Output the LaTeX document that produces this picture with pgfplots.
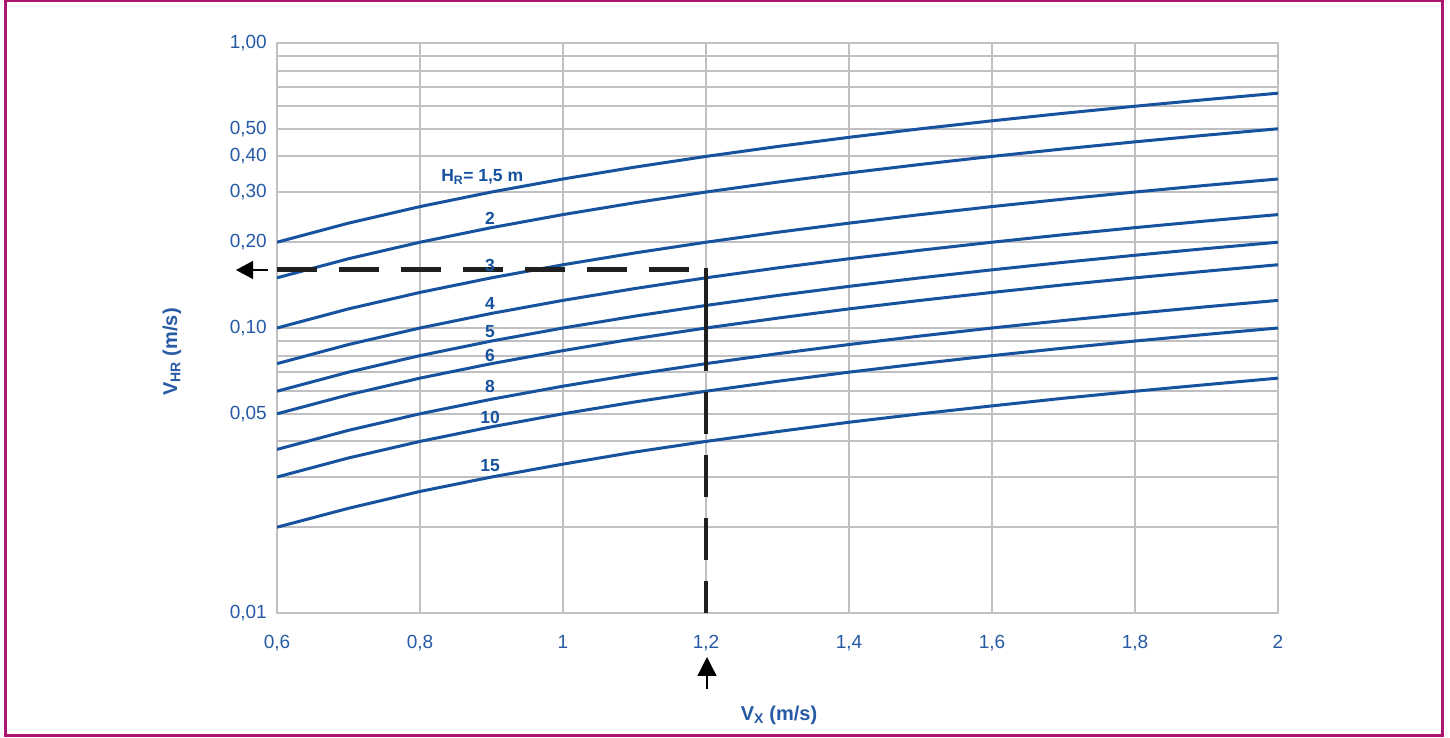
\documentclass[border=0pt]{standalone}
\usepackage{pgfplots}
\pgfplotsset{compat=1.18}
\usepackage{pgfplotstable}
\usepackage{fontspec}
\setmainfont{Liberation Sans}
\usetikzlibrary{arrows.meta}
\definecolor{framec}{RGB}{170,22,112}
\definecolor{tblue}{RGB}{38,90,165}
\definecolor{cblue}{RGB}{22,82,158}
\definecolor{gridgray}{RGB}{192,192,194}

\pgfplotstableread{
x   h1     h2     h3     h4      h5    h6     h8      h10   h15
0.6 0.2000 0.150 0.1000 0.0750  0.060 0.0500 0.0375  0.030 0.0200
0.7 0.2333 0.175 0.1167 0.0875  0.070 0.0583 0.04375 0.035 0.0233
0.8 0.2667 0.200 0.1333 0.1000  0.080 0.0667 0.0500  0.040 0.0267
0.9 0.3000 0.225 0.1500 0.1125  0.090 0.0750 0.05625 0.045 0.0300
1.0 0.3333 0.250 0.1667 0.1250  0.100 0.0833 0.0625  0.050 0.0333
1.1 0.3667 0.275 0.1833 0.1375  0.110 0.0917 0.06875 0.055 0.0367
1.2 0.4000 0.300 0.2000 0.1500  0.120 0.1000 0.0750  0.060 0.0400
1.3 0.4333 0.325 0.2167 0.1625  0.130 0.1083 0.08125 0.065 0.0433
1.4 0.4667 0.350 0.2333 0.1750  0.140 0.1167 0.0875  0.070 0.0467
1.5 0.5000 0.375 0.2500 0.1875  0.150 0.1250 0.09375 0.075 0.0500
1.6 0.5333 0.400 0.2667 0.2000  0.160 0.1333 0.1000  0.080 0.0533
1.7 0.5667 0.425 0.2833 0.2125  0.170 0.1417 0.10625 0.085 0.0567
1.8 0.6000 0.450 0.3000 0.2250  0.180 0.1500 0.1125  0.090 0.0600
1.9 0.6333 0.475 0.3167 0.2375  0.190 0.1583 0.11875 0.095 0.0633
2.0 0.6667 0.500 0.3333 0.2500  0.200 0.1667 0.1250  0.100 0.0667
}\curves

\begin{document}
\begin{tikzpicture}[x=1pt,y=1pt]
\useasboundingbox (0,0) rectangle (1450,738);
\fill[white] (0,0) rectangle (1450,738);
\draw[framec, line width=3pt] (5,2) rectangle (1442,737);
\begin{axis}[
  at={(277pt,125pt)}, anchor=south west,
  scale only axis, width=1001pt, height=570pt,
  xmin=0.6, xmax=2, ymode=log, ymin=0.01, ymax=1,
  xtick={0.6,0.8,1,1.2,1.4,1.6,1.8,2},
  xticklabels={{0,6},{0,8},{1},{1,2},{1,4},{1,6},{1,8},{2}},
  ytick={0.01,0.05,0.1,0.2,0.3,0.4,0.5,1},
  yticklabels={{0,01},{0,05},{0,10},{0,20},{0,30},{0,40},{0,50},{1,00}},
  minor ytick={0.02,0.03,0.04,0.06,0.07,0.08,0.09,0.6,0.7,0.8,0.9},
  major tick length=0pt, minor tick length=0pt,
  xmajorgrids, ymajorgrids, yminorgrids,
  grid style={gridgray, line width=2pt},
  minor grid style={gridgray, line width=2pt},
  axis line style={gridgray, line width=2pt},
  tick style={draw=none},
  tick label style={font=\fontsize{19}{21}\selectfont, text=tblue, inner sep=0pt},
  yticklabel style={xshift=-10pt},
  xticklabel style={yshift=-22pt},
  curve/.style={cblue, line width=3pt, solid, mark=none},
]
\addplot[curve] table[x=x,y=h1]{\curves};
\addplot[curve] table[x=x,y=h2]{\curves};
\addplot[curve] table[x=x,y=h3]{\curves};
\addplot[curve] table[x=x,y=h4]{\curves};
\addplot[curve] table[x=x,y=h5]{\curves};
\addplot[curve] table[x=x,y=h6]{\curves};
\addplot[curve] table[x=x,y=h8]{\curves};
\addplot[curve] table[x=x,y=h10]{\curves};
\addplot[curve] table[x=x,y=h15]{\curves};
\addplot[black!88, line width=5pt, mark=none, dash pattern=on 40pt off 22pt] coordinates {(0.6,0.16) (1.2,0.16)};
\addplot[black!88, line width=4pt, mark=none, dash pattern=on 103pt off 21pt on 42pt off 21pt on 42pt off 21pt on 42pt off 21pt on 60pt] coordinates {(1.2,0.162) (1.2,0.01)};
\begin{scope}[every node/.style={font=\fontsize{17.5}{19}\selectfont\bfseries, text=cblue, inner sep=0pt}]
\node at (axis cs:0.887,0.339) {H\textsubscript{R}= 1,5 m};
\node at (axis cs:0.898,0.243) {2};
\node at (axis cs:0.898,0.166) {3};
\node at (axis cs:0.898,0.1224) {4};
\node at (axis cs:0.898,0.0968) {5};
\node at (axis cs:0.898,0.0804) {6};
\node at (axis cs:0.898,0.0626) {8};
\node at (axis cs:0.898,0.0487) {10};
\node at (axis cs:0.898,0.0328) {15};
\end{scope}
\end{axis}
\draw[-{Triangle[length=17pt,width=18pt]}, line width=1.3pt] (268,468) -- (236,468);
\draw[-{Triangle[length=19pt,width=19pt]}, line width=1.3pt] (707,49) -- (707,81);
\node[font=\fontsize{20}{22}\selectfont\bfseries, text=tblue, inner sep=0pt] at (779,23) {V\textsubscript{X} (m/s)};
\node[font=\fontsize{20}{22}\selectfont\bfseries, text=tblue, inner sep=0pt, rotate=90] at (172,386) {V\textsubscript{HR} (m/s)};
\end{tikzpicture}
\end{document}
